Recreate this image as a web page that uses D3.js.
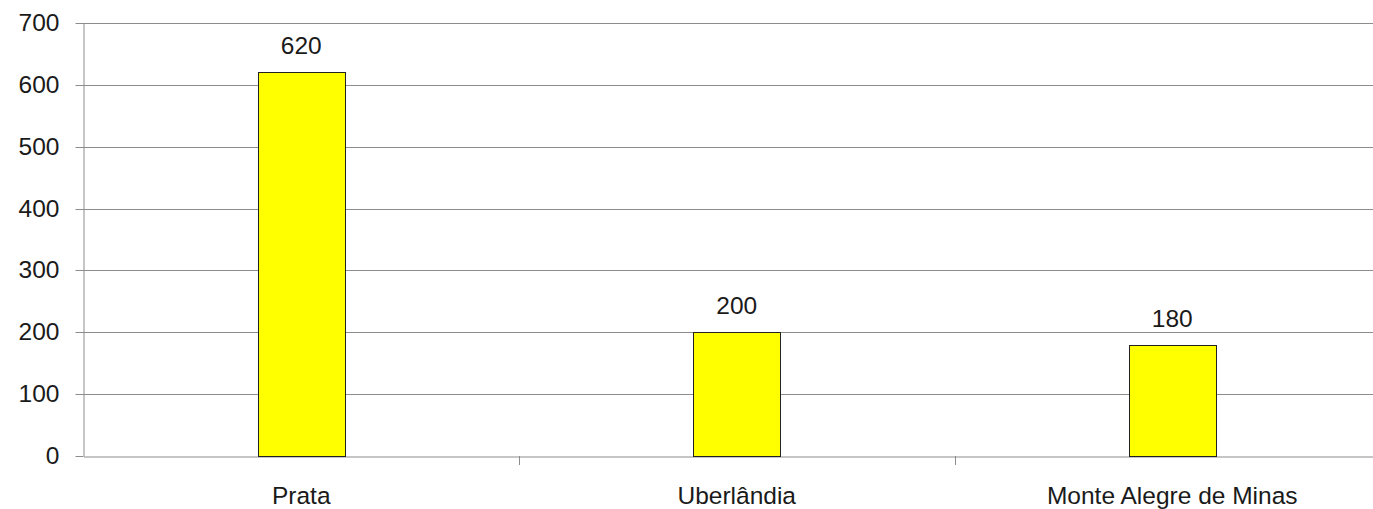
<!DOCTYPE html>
<html><head><meta charset="utf-8">
<script src="https://cdn.jsdelivr.net/npm/d3@7/dist/d3.min.js"></script>
<style>html,body{margin:0;padding:0;background:#fff;overflow:hidden}</style>
</head><body>
<svg id="c" width="1373" height="509"></svg>
<script>
const categories = ["Prata", "Uberlândia", "Monte Alegre de Minas"];
const values = [620, 200, 180];
const yTicks = [0, 100, 200, 300, 400, 500, 600, 700];

const svg = d3.select("#c");
const font = "Arial, Liberation Sans, sans-serif";
const fs = 24.5;
const x = d3.scaleBand().domain(categories).range([83.5, 1390]).paddingInner(0).paddingOuter(0);
const y = d3.scaleLinear().domain([0, 700]).range([456, 23]);

// gridlines
svg.append("g").selectAll("line").data(yTicks.filter(d => d > 0)).join("line")
  .attr("x1", 83).attr("x2", 1390)
  .attr("y1", d => Math.round(y(d)) + 0.5).attr("y2", d => Math.round(y(d)) + 0.5)
  .attr("stroke", "#8c8c8c").attr("stroke-width", 1);

// y axis
const yAxis = svg.append("g").attr("transform", "translate(83.5,0)")
  .call(d3.axisLeft(y).tickValues(yTicks).tickSize(8).tickPadding(16).tickSizeOuter(0));
yAxis.select(".domain").attr("stroke", "#8c8c8c");
yAxis.selectAll(".tick line").attr("stroke", "#8c8c8c");
yAxis.selectAll(".tick").attr("transform", d => `translate(0,${Math.round(y(d)) + 0.5})`);
yAxis.selectAll("text").attr("font-family", font).attr("font-size", fs).attr("fill", "#1a1a1a");

// x axis
const xAxis = svg.append("g").attr("transform", "translate(0,456.5)")
  .call(d3.axisBottom(x).tickSize(0).tickSizeOuter(0));
xAxis.select(".domain").attr("stroke", "#8c8c8c");
xAxis.selectAll("text").attr("y", 47).attr("dy", 0)
  .attr("font-family", font).attr("font-size", fs).attr("fill", "#1a1a1a");
// category separators
svg.append("g").selectAll("line").data(categories.slice(1)).join("line")
  .attr("x1", d => Math.round(x(d)) + 0.5).attr("x2", d => Math.round(x(d)) + 0.5)
  .attr("y1", 456).attr("y2", 465).attr("stroke", "#8c8c8c");

// bars
const bw = x.bandwidth() * 0.2;
svg.append("g").selectAll("rect").data(values).join("rect")
  .attr("x", (d, i) => Math.round(x(categories[i]) + x.bandwidth() / 2 - bw / 2) + 0.5)
  .attr("y", d => Math.round(y(d)) + 0.5)
  .attr("width", Math.round(bw))
  .attr("height", d => Math.round(y(0)) - Math.round(y(d)))
  .attr("fill", "#ffff00").attr("stroke", "#222").attr("stroke-width", 1);

// value labels
svg.append("g").selectAll("text").data(values).join("text")
  .attr("x", (d, i) => x(categories[i]) + x.bandwidth() / 2)
  .attr("y", d => y(d) - 18)
  .attr("text-anchor", "middle")
  .attr("font-family", font).attr("font-size", fs).attr("fill", "#1a1a1a")
  .text(d => d);
</script>
</body></html>
